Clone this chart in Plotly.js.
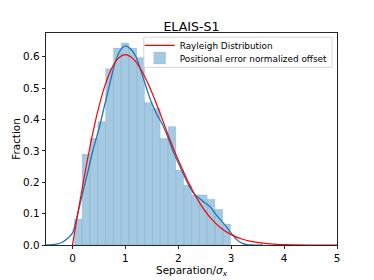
<!DOCTYPE html>
<html>
<head>
<meta charset="utf-8">
<script src="https://cdn.plot.ly/plotly-3.0.1.min.js"></script>
<style>
html,body{margin:0;padding:0;background:#fff;}
#chart{width:374px;height:280px;}
</style>
</head>
<body>
<div id="chart"></div>
<script>
// Histogram (20 bins), left edges and heights
var binStart = 0.034;
var binWidth = 0.1478;
var histHeights = [0.083, 0.290, 0.340, 0.394, 0.563, 0.628, 0.644, 0.628, 0.598, 0.454,
                   0.436, 0.340, 0.378, 0.239, 0.191, 0.160, 0.160, 0.146, 0.114, 0.067];

// KDE curve (blue)
var kdeX = [-0.5, -0.4, -0.3, -0.2, -0.1, 0.0, 0.1, 0.2, 0.3, 0.4, 0.5, 0.6, 0.7, 0.8, 0.9, 1.0,
            1.1, 1.2, 1.3, 1.4, 1.5, 1.6, 1.7, 1.8, 1.9, 2.0, 2.1, 2.2, 2.3, 2.4, 2.5, 2.6,
            2.7, 2.8, 2.9, 3.0, 3.1, 3.2, 3.3, 3.4, 3.6];
var kdeY = [0.000, 0.001, 0.003, 0.008, 0.020, 0.038, 0.100, 0.170, 0.240, 0.310, 0.370, 0.440,
            0.510, 0.578, 0.620, 0.635, 0.625, 0.600, 0.552, 0.500, 0.452, 0.415, 0.385, 0.345,
            0.300, 0.262, 0.225, 0.190, 0.163, 0.148, 0.135, 0.122, 0.100, 0.080, 0.060, 0.038,
            0.018, 0.006, 0.001, 0.000, 0.000];

// Rayleigh distribution curve (red)
var rayX = [0.0, 0.1, 0.2, 0.3, 0.4, 0.5, 0.6, 0.7, 0.8, 0.9, 1.0, 1.1, 1.2, 1.3, 1.4, 1.5,
            1.6, 1.7, 1.8, 1.9, 2.0, 2.2, 2.4, 2.6, 2.8, 3.0, 3.2, 3.4, 3.6, 3.8, 4.0, 4.5, 5.0];
var rayY = [0.000, 0.100, 0.196, 0.287, 0.369, 0.441, 0.501, 0.548, 0.581, 0.600, 0.607, 0.600,
            0.584, 0.558, 0.525, 0.487, 0.445, 0.400, 0.355, 0.311, 0.271, 0.197, 0.135, 0.088,
            0.055, 0.033, 0.019, 0.011, 0.006, 0.003, 0.001, 0.000, 0.000];

var xTicks = [0, 1, 2, 3, 4, 5];
var yTicks = [0.0, 0.1, 0.2, 0.3, 0.4, 0.5, 0.6];

var binCenters = histHeights.map(function(h, i){ return binStart + binWidth * (i + 0.5); });

var FONT = "DejaVu Sans, sans-serif";
var TICK = 10.4;

var traces = [
  {
    type: 'bar', x: binCenters, y: histHeights, width: binWidth,
    name: 'Positional error normalized offset', legend: 'legend2',
    marker: {color: 'rgba(31,119,180,0.4)', line: {color: 'rgba(31,119,180,0.12)', width: 0.8}},
    hoverinfo: 'skip'
  },
  {
    type: 'scatter', mode: 'lines', x: kdeX, y: kdeY, showlegend: false,
    line: {color: '#1f77b4', width: 1.3, shape: 'spline', smoothing: 0.8}, hoverinfo: 'skip'
  },
  {
    type: 'scatter', mode: 'lines', x: rayX, y: rayY, name: 'Rayleigh Distribution', legend: 'legend',
    line: {color: '#ff0000', width: 1.2, shape: 'spline', smoothing: 0.8},
    hoverinfo: 'skip'
  }
];

var legendCommon = {
  xanchor: 'left', yanchor: 'top', bgcolor: 'rgba(0,0,0,0)', borderwidth: 0,
  font: {family: FONT, size: 8.9, color: '#000'}
};

var layout = {
  width: 374, height: 280,
  margin: {l: 46, r: 37, t: 33, b: 35, pad: 0},
  paper_bgcolor: '#fff', plot_bgcolor: '#fff',
  font: {family: FONT, size: TICK, color: '#000'},
  title: {text: 'ELAIS-S1', font: {family: FONT, size: 12.6, color: '#000'},
          x: 0.512, xanchor: 'center', y: 0.905, yanchor: 'middle'},
  bargap: 0,
  showlegend: true,
  legend: Object.assign({x: 0.322, y: 1.01}, legendCommon),
  legend2: Object.assign({x: 0.322, y: 0.950}, legendCommon),
  shapes: [{
    type: 'rect', xref: 'paper', yref: 'paper', layer: 'above',
    x0: 0.336, x1: 0.983, y0: 0.838, y1: 0.980,
    fillcolor: 'rgba(255,255,255,0.8)', line: {color: '#cccccc', width: 0.8}
  }],
  xaxis: {
    range: [-0.5, 5], tickvals: xTicks, ticktext: xTicks.map(String),
    showgrid: false, zeroline: false, showline: true, mirror: true,
    linecolor: '#000', linewidth: 0.85, ticks: 'outside', ticklen: 3.5, tickwidth: 0.85,
    tickcolor: '#000', tickfont: {family: FONT, size: TICK, color: '#000'},
    title: {text: 'Separation/<i>σ</i><sub><i>x</i></sub>', font: {family: FONT, size: TICK, color: '#000'}, standoff: 0}
  },
  yaxis: {
    range: [0, 0.676], tickvals: yTicks, ticktext: yTicks.map(function(v){return v.toFixed(1);}),
    showgrid: false, zeroline: false, showline: true, mirror: true,
    linecolor: '#000', linewidth: 0.85, ticks: 'outside', ticklen: 3.5, tickwidth: 0.85,
    tickcolor: '#000', tickfont: {family: FONT, size: TICK, color: '#000'},
    title: {text: 'Fraction', font: {family: FONT, size: TICK, color: '#000'}, standoff: 0}
  }
};

Plotly.newPlot('chart', traces, layout, {displayModeBar: false, staticPlot: true});
</script>
</body>
</html>
